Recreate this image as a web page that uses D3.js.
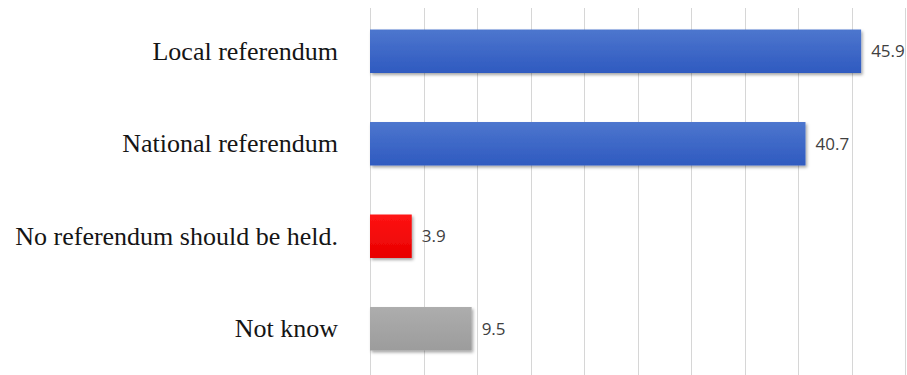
<!DOCTYPE html>
<html>
<head>
<meta charset="utf-8">
<script src="https://cdn.jsdelivr.net/npm/d3@7"></script>
<style>
  html, body { margin: 0; padding: 0; background: #ffffff; }
  svg { display: block; }
</style>
</head>
<body>
<svg id="chart" width="907" height="375"></svg>
<script>
// Survey answers: which kind of referendum should be held (percent)
const categories = ["Local referendum", "National referendum", "No referendum should be held.", "Not know"];
const values = [45.9, 40.7, 3.9, 9.5];
const valueLabels = ["45.9", "40.7", "3.9", "9.5"];
const gridTicks = [0, 5, 10, 15, 20, 25, 30, 35, 40, 45, 50];
const barKinds = ["blue", "blue", "red", "gray"];

const width = 907, height = 375;
const margin = { left: 370, right: 2, top: 5, bottom: 0 };

const svg = d3.select("#chart");

const x = d3.scaleLinear().domain([0, 50]).range([margin.left, width - margin.right]);
const y = d3.scaleBand().domain(categories).range([margin.top, height]).paddingInner(0.53).paddingOuter(0.265);

const defs = svg.append("defs");
const grads = {
  blue: ["#4d76ce", "#2f5ac0"],
  red: ["#ff1414", "#e80000"],
  gray: ["#adadad", "#9c9c9c"]
};
Object.entries(grads).forEach(([k, [c0, c1]]) => {
  const g = defs.append("linearGradient").attr("id", "g-" + k)
    .attr("x1", 0).attr("y1", 0).attr("x2", 0).attr("y2", 1);
  g.append("stop").attr("offset", "0%").attr("stop-color", c0);
  g.append("stop").attr("offset", "100%").attr("stop-color", c1);
});
const f = defs.append("filter").attr("id", "shadow")
  .attr("x", "-5%").attr("y", "-20%").attr("width", "115%").attr("height", "150%");
f.append("feDropShadow").attr("dx", 1.5).attr("dy", 2).attr("stdDeviation", 1.6)
  .attr("flood-color", "#000").attr("flood-opacity", 0.35);

// vertical gridlines
svg.append("g").selectAll("line").data(gridTicks).join("line")
  .attr("x1", d => Math.round(x(d)) + 0.5).attr("x2", d => Math.round(x(d)) + 0.5)
  .attr("y1", 8).attr("y2", height)
  .attr("stroke", "#d6d6d6").attr("stroke-width", 1);

// bars
svg.append("g").selectAll("rect").data(values).join("rect")
  .attr("x", x(0))
  .attr("y", (d, i) => y(categories[i]))
  .attr("width", d => x(d) - x(0))
  .attr("height", y.bandwidth())
  .attr("fill", (d, i) => `url(#g-${barKinds[i]})`)
  .attr("filter", "url(#shadow)");

// value labels
svg.append("g").selectAll("text").data(values).join("text")
  .attr("x", d => x(d) + 10)
  .attr("y", (d, i) => y(categories[i]) + y.bandwidth() / 2)
  .attr("dy", "0.35em")
  .attr("font-family", "'Open Sans', 'DejaVu Sans', sans-serif")
  .attr("font-size", 17)
  .attr("fill", "#404040")
  .text((d, i) => valueLabels[i]);

// category labels
svg.append("g").selectAll("text").data(categories).join("text")
  .attr("x", 338)
  .attr("y", d => y(d) + y.bandwidth() / 2)
  .attr("dy", "0.32em")
  .attr("text-anchor", "end")
  .attr("font-family", "'Liberation Serif', 'DejaVu Serif', serif")
  .attr("font-size", 26)
  .attr("fill", "#151515")
  .text(d => d);
</script>
</body>
</html>
